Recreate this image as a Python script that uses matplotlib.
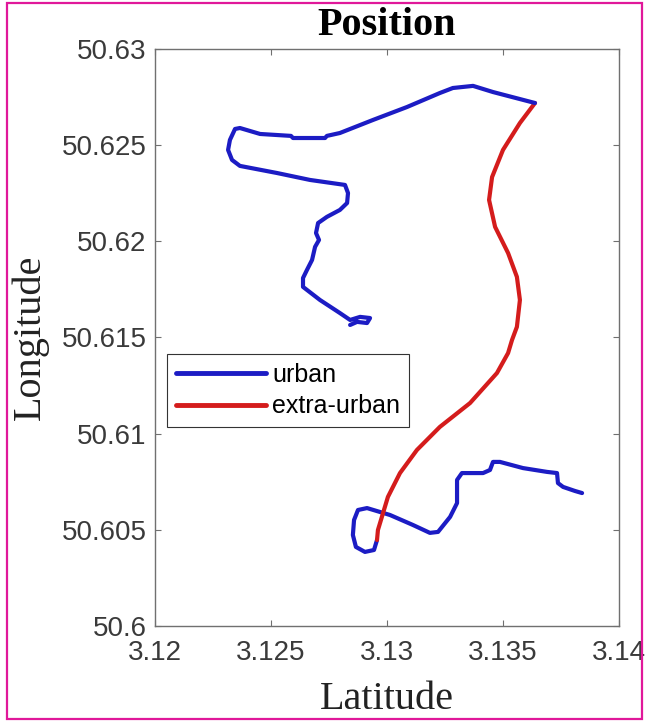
import numpy as np
import matplotlib
matplotlib.use("Agg")
import matplotlib.pyplot as plt
from matplotlib.patches import Rectangle

# urban stretch 1 (east end -> small loop)
urban1_lat = [3.13841, 3.13810, 3.13759, 3.13737, 3.13733, 3.13690, 3.13586, 3.13487, 3.13457,
              3.13444, 3.13414, 3.13323, 3.13302, 3.13302, 3.13272, 3.13220, 3.13185, 3.13112,
              3.13013, 3.12914, 3.12875, 3.12858, 3.12853, 3.12866, 3.12905, 3.12944, 3.12957]
urban1_lon = [50.60691, 50.60702, 50.60723, 50.60743, 50.60795, 50.60801, 50.60821, 50.60853, 50.60853,
              50.60811, 50.60795, 50.60795, 50.60759, 50.60639, 50.60567, 50.60489, 50.60484, 50.60525,
              50.60577, 50.60613, 50.60603, 50.60551, 50.60473, 50.60411, 50.60385, 50.60395, 50.60447]

# extra-urban stretch
extra_lat = [3.12957, 3.12961, 3.12978, 3.13004, 3.13056, 3.13129, 3.13228, 3.13358, 3.13474,
             3.13522, 3.13539, 3.13560, 3.13573, 3.13560, 3.13522, 3.13466, 3.13440, 3.13453,
             3.13500, 3.13573, 3.13638]
extra_lon = [50.60447, 50.60499, 50.60567, 50.60671, 50.60795, 50.60915, 50.61035, 50.61159, 50.61315,
             50.61419, 50.61487, 50.61555, 50.61695, 50.61815, 50.61939, 50.62075, 50.62215, 50.62334,
             50.62475, 50.62615, 50.62719]

# urban stretch 2 (north-east -> end)
urban2_lat = [3.13638, 3.13457, 3.13371, 3.13284, 3.13228, 3.13086, 3.12940, 3.12797, 3.12741,
              3.12733, 3.12595, 3.12586, 3.12453, 3.12366, 3.12345, 3.12323, 3.12315, 3.12332,
              3.12366, 3.12526, 3.12668, 3.12819, 3.12832, 3.12828, 3.12797, 3.12741, 3.12703,
              3.12694, 3.12707, 3.12690, 3.12677, 3.12655, 3.12638, 3.12638, 3.12711, 3.12797,
              3.12841, 3.12884, 3.12927, 3.12914, 3.12871, 3.12841]
urban2_lon = [50.62719, 50.62776, 50.62808, 50.62797, 50.62771, 50.62698, 50.62631, 50.62563, 50.62548,
              50.62537, 50.62537, 50.62548, 50.62558, 50.62589, 50.62584, 50.62527, 50.62475, 50.62423,
              50.62392, 50.62355, 50.62319, 50.62293, 50.62251, 50.62199, 50.62163, 50.62127, 50.62095,
              50.62043, 50.62007, 50.61971, 50.61903, 50.61851, 50.61809, 50.61763, 50.61695, 50.61627,
              50.61591, 50.61607, 50.61601, 50.61575, 50.61581, 50.61565]

xticks = [3.12, 3.125, 3.13, 3.135, 3.14]
xtick_labels = ['3.12', '3.125', '3.13', '3.135', '3.14']
yticks = [50.6, 50.605, 50.61, 50.615, 50.62, 50.625, 50.63]
ytick_labels = ['50.6', '50.605', '50.61', '50.615', '50.62', '50.625', '50.63']

blue = '#1c1cc4'
red = '#d41c1c'
axcol = '#707070'
serif = ['Liberation Serif', 'DejaVu Serif']
sans = ['Liberation Sans', 'DejaVu Sans']

fig = plt.figure(figsize=(6.48, 7.21), dpi=100)
ax = fig.add_axes([0.2392, 0.1318, 0.716, 0.8003])

ax.plot(urban1_lat, urban1_lon, color=blue, lw=3.0, solid_capstyle='round', solid_joinstyle='round', label='urban')
ax.plot(extra_lat, extra_lon, color=red, lw=3.0, solid_capstyle='round', solid_joinstyle='round', label='extra-urban')
ax.plot(urban2_lat, urban2_lon, color=blue, lw=3.0, solid_capstyle='round', solid_joinstyle='round')

ax.set_xlim(3.12, 3.14)
ax.set_ylim(50.6, 50.63)
ax.set_xticks(xticks)
ax.set_xticklabels(xtick_labels, family=sans, fontsize=20, color='#3a3a3a')
ax.set_yticks(yticks)
ax.set_yticklabels(ytick_labels, family=sans, fontsize=20, color='#3a3a3a')
ax.tick_params(axis='both', direction='in', length=4, width=0.8, color=axcol,
               top=True, right=True)
ax.tick_params(axis='x', pad=10)
ax.tick_params(axis='y', pad=6)
for s in ax.spines.values():
    s.set_color(axcol)
    s.set_linewidth(1.0)

ax.set_title('Position', family=serif, fontsize=29, fontweight='bold', pad=10)
ax.set_xlabel('Latitude', family=serif, fontsize=29, color='#222222')
ax.set_ylabel('Longitude', family=serif, fontsize=29, color='#222222')
ax.xaxis.set_label_coords(0.5, -0.096)
ax.yaxis.set_label_coords(-0.229, 0.5)

leg = ax.legend(loc='upper left', bbox_to_anchor=(0.026, 0.471), borderaxespad=0,
                prop={'family': sans, 'size': 18}, handlelength=3.6, handletextpad=0.25,
                labelspacing=0.3, borderpad=0.35, fancybox=False, framealpha=1)
leg.get_frame().set_edgecolor('#333333')
leg.get_frame().set_linewidth(0.8)
for h in leg.get_lines():
    h.set_linewidth(3.5)

# magenta border round the figure
fig.patches.append(Rectangle((0.0108, 0.0028), 0.9807, 0.993, transform=fig.transFigure,
                             fill=False, edgecolor='#e0189a', linewidth=1.6))

fig.savefig('out.png', dpi=100)
